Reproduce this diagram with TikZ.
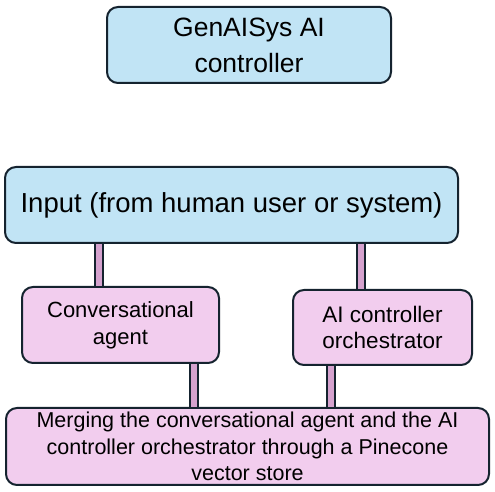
\documentclass[tikz,border=0pt]{standalone}
\usepackage{fontspec}
\setmainfont{Liberation Sans}
\definecolor{boxblue}{HTML}{C1E4F5}
\definecolor{boxpink}{HTML}{F2CDEE}
\definecolor{edgecol}{HTML}{15232F}
\definecolor{barpink}{HTML}{D5A2CE}
\tikzset{
  box/.style={draw=edgecol, line width=2pt, rounded corners=11pt, align=center, inner sep=0pt},
  bluebox/.style={box, fill=boxblue},
  pinkbox/.style={box, fill=boxpink},
  conn/.style={draw=edgecol, line width=2pt, double=barpink, double distance=6pt},
}
\begin{document}
\begin{tikzpicture}[x=1pt,y=1pt]
\useasboundingbox (0,0) rectangle (495,492);
\node[bluebox, minimum width=284pt, minimum height=76pt,
  font=\fontsize{26.5}{36}\selectfont] (top) at (249,447) {GenAISys AI\\controller};
\node[bluebox, minimum width=453pt, minimum height=76pt,
  font=\fontsize{27.5}{33}\selectfont] (input) at (231.5,287) {Input (from human user or system)};
\node[pinkbox, minimum width=197pt, minimum height=76pt,
  font=\fontsize{22}{27}\selectfont] (conv) at (120.5,167) {Conversational\\agent};
\node[pinkbox, minimum width=179pt, minimum height=75pt,
  font=\fontsize{22.5}{26}\selectfont] (orch) at (382.5,164.5) {AI controller\\orchestrator};
\node[pinkbox, minimum width=483pt, minimum height=77pt,
  font=\fontsize{21.5}{26.5}\selectfont] (merge) at (247.5,45.5) {Merging the conversational agent and the AI\\controller orchestrator through a Pinecone\\vector store};
\coordinate (x1) at (98.5,0);
\coordinate (x2) at (360.5,0);
\coordinate (x3) at (193.5,0);
\coordinate (x4) at (331,0);
\draw[conn] (input.south -| x1) -- (conv.north -| x1);
\draw[conn] (input.south -| x2) -- (orch.north -| x2);
\draw[conn] (conv.south -| x3) -- (merge.north -| x3);
\draw[conn] (orch.south -| x4) -- (merge.north -| x4);
\end{tikzpicture}
\end{document}
